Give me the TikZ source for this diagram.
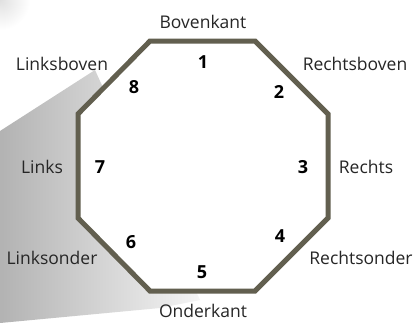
\documentclass[tikz,border=0pt]{standalone}
\usepackage{fontspec}
\setmainfont{Open Sans}
\begin{document}
\begin{tikzpicture}[x=1pt,y=-1pt,
  lbl/.style={font=\fontsize{17.5}{20}\selectfont, text=black!85},
  num/.style={font=\bfseries\fontsize{18}{20}\selectfont, text=black},
  octo/.style={draw=black!70!olive!60!gray, line width=5pt, fill=white, line join=miter}]
\useasboundingbox (0,0) rectangle (417,322);
\fill[white] (0,0) rectangle (417,322);
% faint shadow top-left
\shade[inner color=black!12, outer color=white] (0,0) circle (30);
% beam
\shade[left color=black!30, right color=black!4] (0,131) -- (95,70) -- (200,300) -- (160,308) -- (0,323) -- cycle;
% octagon
\coordinate (v1) at (150,41);
\coordinate (v2) at (255,41);
\coordinate (v3) at (328,114);
\coordinate (v4) at (328,218);
\coordinate (v5) at (255,291);
\coordinate (v6) at (150,291);
\coordinate (v7) at (78,218);
\coordinate (v8) at (78,114);
\draw[octo] (v1) -- (v2) -- (v3) -- (v4) -- (v5) -- (v6) -- (v7) -- (v8) -- cycle;
% labels
\node[lbl] (t1) at (203,22) {Bovenkant};
\node[lbl] (t2) at (355,64) {Rechtsboven};
\node[lbl] (t3) at (366,167) {Rechts};
\node[lbl] (t4) at (361,258) {Rechtsonder};
\node[lbl] (t5) at (203,311) {Onderkant};
\node[lbl] (t6) at (52,258) {Linksonder};
\node[lbl] (t7) at (42,167) {Links};
\node[lbl] (t8) at (62,64) {Linksboven};
% numbers
\node[num] (n1) at (203,62) {1};
\node[num] (n2) at (279,92) {2};
\node[num] (n3) at (303,167) {3};
\node[num] (n4) at (280,236) {4};
\node[num] (n5) at (202,272) {5};
\node[num] (n6) at (131,242) {6};
\node[num] (n7) at (100,167) {7};
\node[num] (n8) at (134,87) {8};
\end{tikzpicture}
\end{document}
